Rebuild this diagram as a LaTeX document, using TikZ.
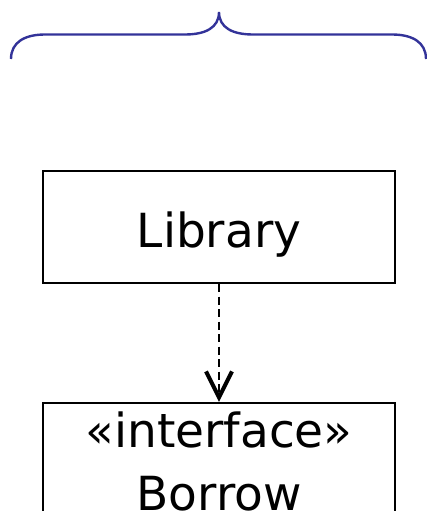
\documentclass[tikz,border=0pt]{standalone}
\usepackage{fontspec}
\setmainfont{DejaVu Sans}
\usetikzlibrary{arrows.meta}
\definecolor{bracecol}{HTML}{333399}
\tikzset{
  classbox/.style={draw=black, line width=2.3pt, minimum width=352pt, inner sep=0pt},
  umltext/.style={font=\fontsize{47}{63}\selectfont, inner sep=0pt},
  depend/.style={line width=2pt, dash pattern=on 8pt off 4.5pt,
    -{Straight Barb[length=26pt,width=26pt,line width=4pt]}},
  bracepath/.style={draw=bracecol, line width=2.4pt}
}
\begin{document}
\begin{tikzpicture}[x=1pt, y=-1pt]
  \useasboundingbox (0,0) rectangle (427,511);
  % curly brace above the classes
  \coordinate (bl) at (11,59);
  \coordinate (bt) at (219,12);
  \coordinate (br) at (426,59);
  \draw[bracepath] (bl) .. controls (11,42) and (25,34.5) .. (45,34.5)
    -- (185,34.5) .. controls (205,34.5) and (219,28) .. (bt)
    .. controls (219,28) and (233,34.5) .. (253,34.5)
    -- (392,34.5) .. controls (412,34.5) and (426,42) .. (br);
  % classes
  \node[classbox, minimum height=112pt] (library) at (219,227) {};
  \node[umltext, anchor=base] (libname) at (219,247) {Library};
  \node[classbox, minimum height=160pt] (borrow) at (219,483) {};
  \node[umltext, anchor=base] (stereo) at (219,447) {«interface»};
  \node[umltext, anchor=base] (borrowname) at (219,510) {Borrow};
  % dependency
  \draw[depend] (library.south) -- (borrow.north);
\end{tikzpicture}
\end{document}
